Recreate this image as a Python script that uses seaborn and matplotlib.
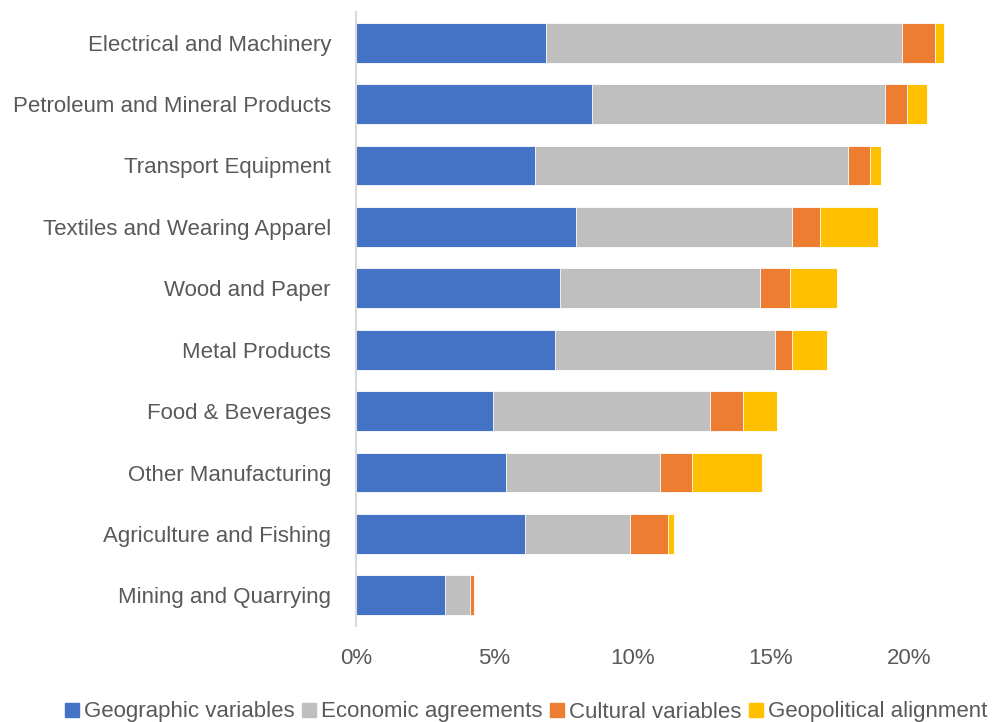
import matplotlib
matplotlib.use("Agg")
import matplotlib.pyplot as plt
from matplotlib.ticker import FuncFormatter
from matplotlib.lines import Line2D
import numpy as np
import pandas as pd
import seaborn as sns

sectors = [
    "Electrical and Machinery",
    "Petroleum and Mineral Products",
    "Transport Equipment",
    "Textiles and Wearing Apparel",
    "Wood and Paper",
    "Metal Products",
    "Food & Beverages",
    "Other Manufacturing",
    "Agriculture and Fishing",
    "Mining and Quarrying",
]

# contribution of each factor group (percentage points)
geographic = [6.87, 8.55, 6.48, 7.96, 7.38, 7.19, 4.94, 5.43, 6.12, 3.22]
economic = [12.88, 10.57, 11.30, 7.82, 7.23, 7.96, 7.87, 5.57, 3.78, 0.90]
cultural = [1.19, 0.82, 0.80, 1.00, 1.09, 0.63, 1.17, 1.16, 1.40, 0.15]
geopolitical = [0.32, 0.70, 0.42, 2.10, 1.71, 1.27, 1.24, 2.53, 0.20, 0.0]

series_names = ["Geographic variables", "Economic agreements",
                "Cultural variables", "Geopolitical alignment"]
colors = ["#4472C4", "#BFBFBF", "#ED7D31", "#FFC000"]

sns.set_theme(style="white")
plt.rcParams["font.family"] = ["Liberation Sans", "DejaVu Sans"]
text_color = "#595959"
fs = 16

df = pd.DataFrame({
    "sector": sectors,
    "geo": np.array(geographic) / 100,
    "econ": np.array(economic) / 100,
    "cult": np.array(cultural) / 100,
    "geopol": np.array(geopolitical) / 100,
})
layers = ["geo", "econ", "cult", "geopol"]
cum = df[layers].cumsum(axis=1)

fig = plt.figure(figsize=(9.94, 7.22), dpi=100)
ax = fig.add_axes([356 / 994, 1 - 626 / 722, 636 / 994, 614 / 722])

# stacked bars: draw running totals from the outermost layer inward
for layer, color in reversed(list(zip(layers, colors))):
    sns.barplot(x=cum[layer], y=df["sector"], orient="h", color=color,
                width=0.65, saturation=1, ax=ax, linewidth=0.6,
                edgecolor="white")

ax.set_xlim(0, 0.23)
ax.set_ylim(9.5, -0.5)
ax.set_xticks([0, 0.05, 0.10, 0.15, 0.20])
ax.xaxis.set_major_formatter(FuncFormatter(lambda v, _: f"{v * 100:.0f}%"))
ax.set_xlabel("")
ax.set_ylabel("")
ax.tick_params(axis="x", length=0, pad=16, labelsize=fs, labelcolor=text_color)
ax.tick_params(axis="y", length=0, pad=18, labelsize=fs, labelcolor=text_color)

for side in ["top", "right", "bottom"]:
    ax.spines[side].set_visible(False)
ax.spines["left"].set_color("#D9D9D9")
ax.spines["left"].set_linewidth(1.5)

handles = [Line2D([0], [0], marker="s", linestyle="none", markersize=10.5,
                  markerfacecolor=c, markeredgecolor=c) for c in colors]
fig.legend(handles, series_names, loc="center", bbox_to_anchor=(0.529, 10 / 722),
           ncol=4, frameon=False, fontsize=fs, labelcolor=text_color,
           handletextpad=0.2, columnspacing=0.3, handlelength=0.7,
           borderpad=0.2)

fig.savefig("out.png", dpi=100)
